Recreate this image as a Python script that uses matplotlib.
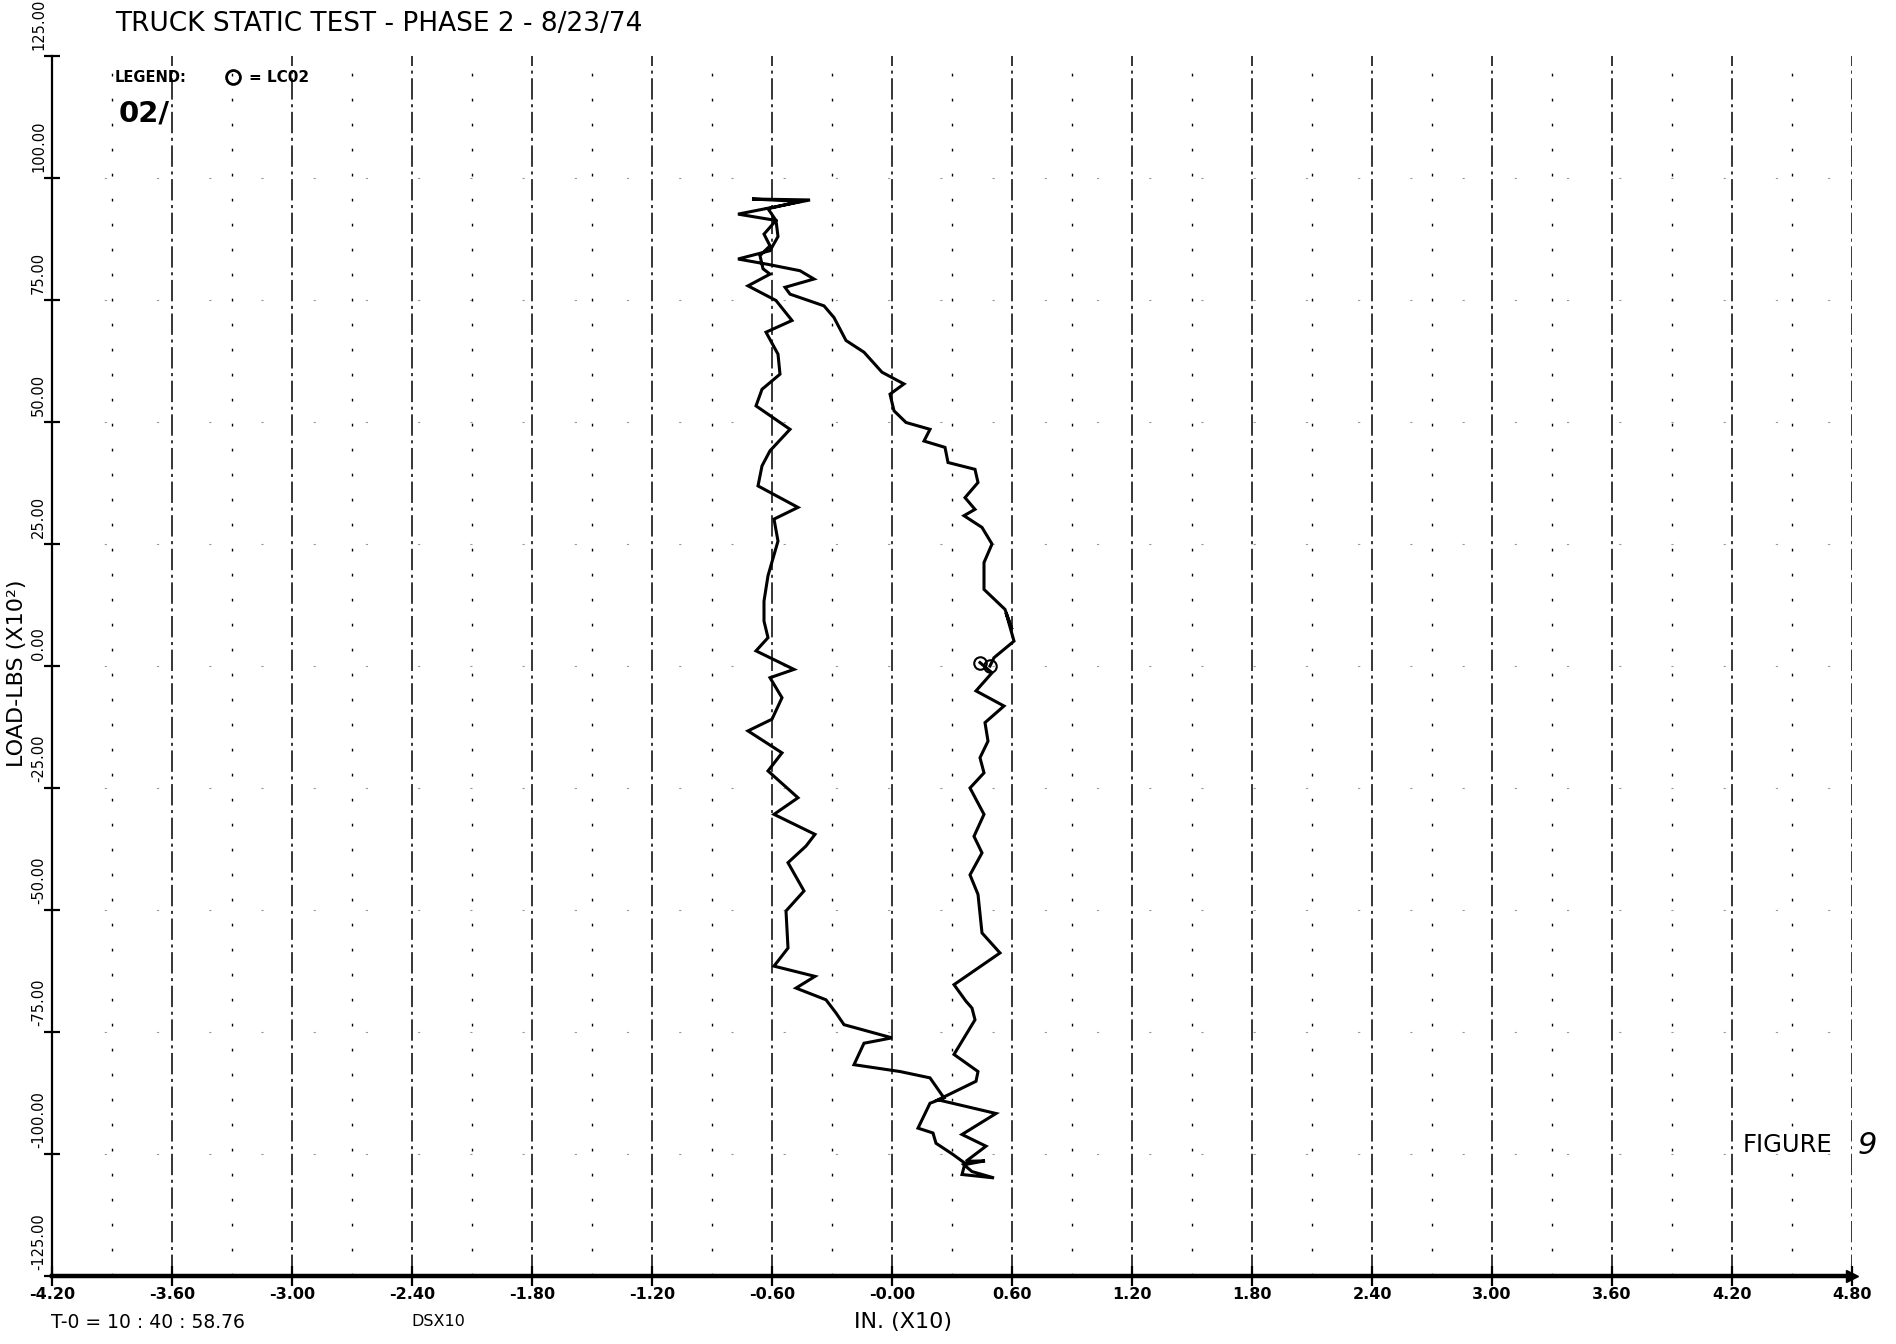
import matplotlib
matplotlib.use("Agg")
import matplotlib.pyplot as plt
from matplotlib.lines import Line2D

# ---------------- data ----------------
# displacement IN. (X10) and load LBS (X10^2), one continuous hysteresis loop
x_in = [0.49, 0.51, 0.61, 0.57, 0.60, 0.565, 0.46, 0.46, 0.50, 0.45, 0.36, 0.415,
        0.365, 0.43, 0.415, 0.28, 0.265, 0.16, 0.19, 0.07, 0.01, -0.01, 0.06,
        -0.05, -0.14, -0.23, -0.29, -0.34, -0.51, -0.535, -0.39, -0.46, -0.62,
        -0.77, -0.61, -0.57, -0.58, -0.77, -0.41, -0.70, -0.46, -0.62, -0.58,
        -0.64, -0.61, -0.66, -0.645, -0.61, -0.72, -0.58, -0.50, -0.63, -0.57,
        -0.56, -0.65, -0.68, -0.51, -0.61, -0.65, -0.67, -0.47, -0.59, -0.57,
        -0.62, -0.64, -0.64, -0.62, -0.68, -0.49, -0.61, -0.55, -0.60, -0.72,
        -0.55, -0.62, -0.47, -0.59, -0.385, -0.43, -0.52, -0.44, -0.53, -0.52,
        -0.59, -0.385, -0.48, -0.33, -0.28, -0.24, -0.00, -0.14, -0.19, 0.04,
        0.19, 0.26, 0.19, 0.13, 0.205, 0.22, 0.305, 0.365, 0.35, 0.51, 0.40,
        0.36, 0.465, 0.37, 0.47, 0.35, 0.52, 0.23, 0.42, 0.43, 0.31, 0.415,
        0.40, 0.37, 0.31, 0.54, 0.45, 0.43, 0.39, 0.45, 0.41, 0.46, 0.39, 0.46,
        0.44, 0.48, 0.465, 0.56, 0.42, 0.50, 0.44]
y_load = [0.0, 1.7, 5.1, 10.9, 7.5, 11.6, 15.7, 21.2, 25.0, 28.4, 30.8, 32.1,
          34.5, 37.6, 40.3, 41.7, 44.8, 46.1, 48.5, 49.9, 52.3, 55.7, 57.8,
          60.2, 64.3, 66.7, 71.4, 73.8, 76.2, 77.6, 79.3, 81.0, 82.3,
          83.4, 85.1, 88.0, 91.3, 92.6, 95.5, 95.7, 95.2, 93.7, 91.3,
          88.5, 86.1, 84.1, 81.4, 80.3, 77.9, 74.9, 70.8, 68.4, 63.9,
          59.8, 56.7, 53.3, 48.5, 44.1, 41.0, 36.9, 32.5, 30.1, 25.6,
          18.5, 13.3, 9.2, 5.8, 3.1, -0.7, -2.4, -6.5, -10.9, -13.3,
          -17.8, -21.5, -27.0, -30.4, -34.5, -36.9, -40.3, -46.1, -50.2, -57.8,
          -61.5, -63.6, -66.0, -68.4, -71.1, -73.5, -76.2, -77.3, -81.7, -83.1,
          -84.4, -88.5, -89.6, -94.7, -95.7, -97.8, -100.1, -101.9, -104.2, -104.9, -103.6,
          -102.2, -101.4, -101.5, -98.4, -96.0, -91.7, -88.9, -85.1, -83.1, -79.6, -72.5,
          -70.1, -68.7, -65.3, -58.8, -54.7, -46.8, -42.8, -38.3, -34.9, -30.4, -25.0, -21.9,
          -18.8, -15.4, -11.6, -8.2, -5.1, -1.4, 0.7]

x_ticks = [-4.20, -3.60, -3.00, -2.40, -1.80, -1.20, -0.60, 0.00, 0.60, 1.20,
           1.80, 2.40, 3.00, 3.60, 4.20, 4.80]
x_tick_labels = ["-4.20", "-3.60", "-3.00", "-2.40", "-1.80", "-1.20", "-0.60",
                 "-0.00", "0.60", "1.20", "1.80", "2.40", "3.00", "3.60",
                 "4.20", "4.80"]
y_ticks = [125, 100, 75, 50, 25, 0, -25, -50, -75, -100, -125]
y_tick_labels = ["125.00", "100.00", "75.00", "50.00", "25.00", "0.00",
                 "-25.00", "-50.00", "-75.00", "-100.00", "-125.00"]
minor_x = [-3.90, -3.30, -2.70, -2.10, -1.50, -0.90, -0.30, 0.30, 0.90, 1.50,
           2.10, 2.70, 3.30, 3.90, 4.50]

FONT = ["DejaVu Sans"]

fig = plt.figure(figsize=(18.96, 13.44), dpi=100)
fig.patch.set_facecolor("white")
ax = fig.add_axes([52 / 1896, 68 / 1344, 1800 / 1896, 1220 / 1344])
ax.set_xlim(-4.2, 4.8)
ax.set_ylim(-125, 125)
ax.set_facecolor("white")

# grid: major vertical dash-dot lines, minor sparse dotted, very sparse horizontal
for xv in x_ticks[1:]:
    ax.axvline(xv, color="black", lw=1.1, ls=(0, (14, 3, 2, 3)), zorder=1)
for xv in minor_x:
    ax.axvline(xv, color="black", lw=1.0, ls=(0, (2, 16)), zorder=1)
for yv in y_ticks[1:-1]:
    ax.axhline(yv, color="black", lw=0.8, ls=(0, (2, 45)), alpha=0.4, zorder=1)

# curve
ax.plot(x_in, y_load, color="black", lw=2.2, solid_joinstyle="miter", zorder=3)
ax.plot([x_in[0], x_in[-1]], [y_load[0], y_load[-1]], ls="none", marker="o",
        ms=9, mfc="none", mec="black", mew=1.5, zorder=4)

# spines
for s in ["top", "right"]:
    ax.spines[s].set_visible(False)
ax.spines["left"].set_linewidth(1.6)
ax.spines["bottom"].set_linewidth(3.2)
# arrowhead at the right end of the x axis
ax.plot([1.0], [0.0], transform=ax.transAxes, marker=">", ms=9, color="black",
        clip_on=False, zorder=5)

ax.set_xticks(x_ticks)
ax.set_xticklabels([])
ax.set_yticks(y_ticks)
ax.set_yticklabels([])
ax.tick_params(axis="x", direction="inout", length=14, width=1.6, pad=0)
ax.tick_params(axis="y", direction="inout", length=12, width=1.6, pad=0)

# x tick labels
for xv, lab in zip(x_ticks, x_tick_labels):
    ax.text(xv, -0.009, lab, transform=ax.get_xaxis_transform(), ha="center",
            va="top", fontsize=11.5, family=FONT, fontweight="bold")

# y tick labels (rotated, starting just above tick)
for yv, lab in zip(y_ticks, y_tick_labels):
    ax.text(-0.0075, yv + 1.2, lab, transform=ax.get_yaxis_transform(),
            rotation=90, rotation_mode="anchor", ha="left", va="center",
            fontsize=10.5, family=FONT)

# axis titles
fig.text(17 / 1896, 1 - 673 / 1344, "LOAD-LBS (X10²)", rotation=90,
         ha="center", va="center", fontsize=16, family=FONT)
fig.text(903 / 1896, 1 - 1322 / 1344, "IN. (X10)", ha="center", va="center",
         fontsize=16, family=FONT)
fig.text(51 / 1896, 1 - 1322 / 1344, "T-0 = 10 : 40 : 58.76", ha="left",
         va="center", fontsize=13.5, family=FONT)
fig.text(411 / 1896, 1 - 1322 / 1344, "DSX10", ha="left", va="center",
         fontsize=11.5, family=FONT)

# title and legend
fig.text(115 / 1896, 1 - 24 / 1344, "TRUCK STATIC TEST - PHASE 2 - 8/23/74",
         ha="left", va="center", fontsize=19, family=FONT)
fig.text(115 / 1896, 1 - 77 / 1344, "LEGEND:", ha="left", va="center",
         fontsize=10.5, family=FONT, fontweight="bold")
fig.add_artist(Line2D([233 / 1896], [1 - 77 / 1344], transform=fig.transFigure,
                      marker="o", ms=10, mfc="none", mec="black", mew=2.0,
                      ls="none"))
fig.text(249 / 1896, 1 - 77 / 1344, "= LC02", ha="left", va="center",
         fontsize=11, family=FONT, fontweight="bold")
fig.text(119 / 1896, 1 - 113 / 1344, "02/", ha="left", va="center",
         fontsize=21, family=FONT, fontweight="bold")

# figure annotation
fig.text(1743 / 1896, 1 - 1145 / 1344, "FIGURE", ha="left", va="center",
         fontsize=17.5, family=FONT)
fig.text(1858 / 1896, 1 - 1145 / 1344, "9", ha="left", va="center",
         fontsize=22, family=FONT, style="italic")

fig.savefig("out.png", dpi=100, facecolor="white")
